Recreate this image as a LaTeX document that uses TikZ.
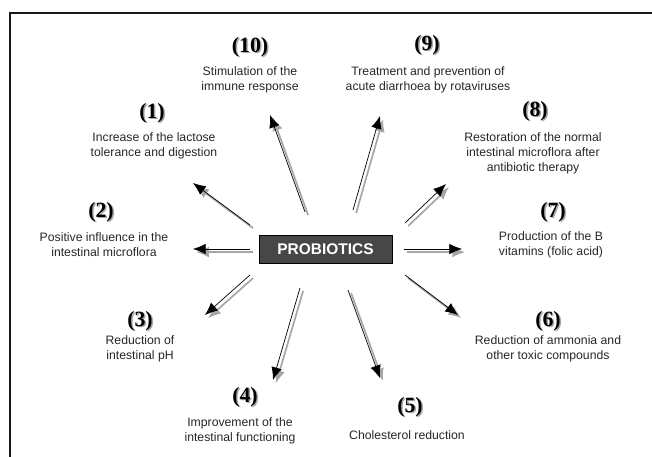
\documentclass[tikz,border=0pt]{standalone}
\usepackage{fontspec}
\setmainfont{Liberation Sans}
\newfontfamily\zahlfont{Liberation Serif}
\usetikzlibrary{arrows.meta}

\begin{document}
\begin{tikzpicture}[x=0.025cm, y=-0.025cm]
	\tikzset{texte/.style={align=center, inner sep=0pt, text=black!85, font=\fontsize{8.7}{10.6}\selectfont},
		nummer/.style={inner sep=0pt, font=\zahlfont\bfseries\fontsize{15.5}{15.5}\selectfont},
		schatten/.style={nummer, text=black!35},
		kasten/.style={draw=black, fill=black!72, text=white, minimum width=3.33cm, minimum height=0.7cm, font=\bfseries\fontsize{11}{11}\selectfont},
		fleche/.style={-{Latex[length=9pt, width=7.5pt]}, line width=0.5pt,
			preaction={draw=black!35, line width=1.2pt, transform canvas={xshift=2.2pt, yshift=-2.2pt}}}};

	\useasboundingbox (0,0) rectangle (652,457);
	\draw[line width=1.2pt, black!90] (10,457) -- (10,13) -- (652,13);

	\node[kasten] (probio) at (325.5,249) {PROBIOTICS};

	% numbers with their shadow
	\node[schatten] (n10s) at (251.5,48.5) {(10)};  \node[nummer] (n10) at (250,47) {(10)};
	\node[schatten] (n9s)  at (428.5,46.5) {(9)};   \node[nummer] (n9)  at (427,45) {(9)};
	\node[schatten] (n1s)  at (153.5,114.5) {(1)};  \node[nummer] (n1)  at (152,113) {(1)};
	\node[schatten] (n8s)  at (536.5,112.5) {(8)};  \node[nummer] (n8)  at (535,111) {(8)};
	\node[schatten] (n2s)  at (102.5,213.5) {(2)};  \node[nummer] (n2)  at (101,212) {(2)};
	\node[schatten] (n7s)  at (554.5,213.5) {(7)};  \node[nummer] (n7)  at (553,212) {(7)};
	\node[schatten] (n3s)  at (141.5,322.5) {(3)};  \node[nummer] (n3)  at (140,321) {(3)};
	\node[schatten] (n6s)  at (549.5,322.5) {(6)};  \node[nummer] (n6)  at (548,321) {(6)};
	\node[schatten] (n4s)  at (246.5,398.5) {(4)};  \node[nummer] (n4)  at (245,397) {(4)};
	\node[schatten] (n5s)  at (411.5,408.5) {(5)};  \node[nummer] (n5)  at (410,407) {(5)};

	\node[texte] (t10) at (250,80)  {Stimulation of the\\immune response};
	\node[texte] (t9)  at (428,80)  {Treatment and prevention of\\acute diarrhoea by rotaviruses};
	\node[texte] (t1)  at (154,146) {Increase of the lactose\\tolerance and digestion};
	\node[texte] (t8)  at (533,153) {Restoration of the normal\\intestinal microflora after\\antibiotic therapy};
	\node[texte] (t2)  at (104,245) {Positive influence in the\\intestinal microflora};
	\node[texte] (t7)  at (551,245) {Production of the B\\vitamins (folic acid)};
	\node[texte] (t3)  at (140,349) {Reduction of\\intestinal pH};
	\node[texte] (t6)  at (548,349) {Reduction of ammonia and\\other toxic compounds};
	\node[texte] (t4)  at (240,431) {Improvement of the\\intestinal functioning};
	\node[texte] (t5)  at (407,435) {Cholesterol reduction};

	% arrow ends
	\coordinate (s10) at (305,212); \coordinate (e10) at (270,115);
	\coordinate (s9)  at (353,210); \coordinate (e9)  at (380,116);
	\coordinate (s1)  at (250,225); \coordinate (e1)  at (193,183);
	\coordinate (s2)  at (250,249); \coordinate (e2)  at (193,249);
	\coordinate (s8)  at (405,223); \coordinate (e8)  at (446,184);
	\coordinate (s7)  at (404,249); \coordinate (e7)  at (462,249);
	\coordinate (s3)  at (250,275); \coordinate (e3)  at (205,315);
	\coordinate (s4)  at (300,288); \coordinate (e4)  at (273,380);
	\coordinate (s5)  at (348,290); \coordinate (e5)  at (380,378);
	\coordinate (s6)  at (405,275); \coordinate (e6)  at (458,315);

	\foreach \i in {1,...,10}
		\draw[fleche] (s\i) -- (e\i);

\end{tikzpicture}
\end{document}
